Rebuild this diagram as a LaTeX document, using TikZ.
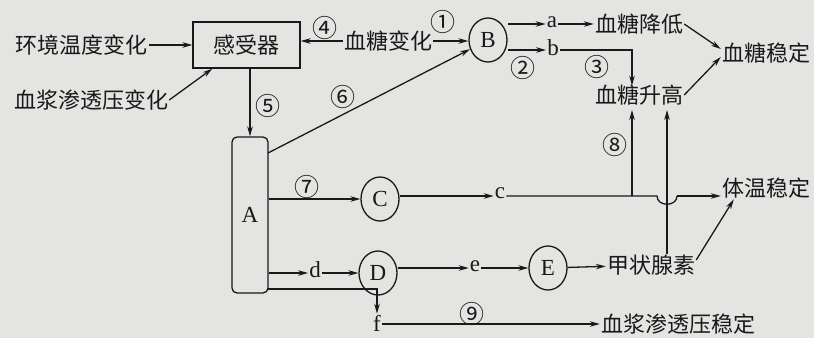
\documentclass[tikz,border=0pt]{standalone}
\usepackage{fontspec}
\setmainfont{Liberation Serif}
\newfontfamily\cjk{Noto Sans CJK SC}
\usetikzlibrary{arrows.meta,shapes.geometric}
\definecolor{paper}{RGB}{228,228,226}
\definecolor{ink}{RGB}{25,25,25}
\tikzset{
  arr/.style={draw=ink,line width=1.3pt,-{Stealth[length=10pt,width=5.5pt]}},
  ln/.style={draw=ink,line width=1.3pt},
  zh/.style={inner sep=1pt,text=ink,font=\cjk\fontsize{22}{24}\selectfont},
  lat/.style={inner sep=1pt,text=ink,font=\fontsize{23}{24}\selectfont},
  num/.style={inner sep=0pt,text=ink,font=\cjk\fontsize{25}{26}\selectfont},
  circ/.style={ellipse,draw=ink,line width=1.3pt,minimum width=38pt,minimum height=44pt,inner sep=0pt,text=ink,font=\fontsize{23}{24}\selectfont},
}
\begin{document}
\begin{tikzpicture}[x=1pt,y=-1pt]
\fill[paper] (0,0) rectangle (814,338);
\useasboundingbox (0,0) rectangle (814,338);
% nodes
\node[zh] (envT) at (82,45) {环境温度变化};
\node[zh] (plasma) at (91,100) {血浆渗透压变化};
\node[draw=ink,line width=1.3pt,minimum width=107pt,minimum height=46pt,zh] (rec) at (246.5,45) {感受器};
\node[zh] (sugar) at (388,41) {血糖变化};
\node[circ] (B) at (488,40) {B};
\node[lat] (a) at (552,22) {a};
\node[lat] (b) at (553,48) {b};
\node[zh] (low) at (639,24) {血糖降低};
\node[zh] (high) at (639,95) {血糖升高};
\node[zh] (stable) at (766,53) {血糖稳定};
\node[draw=ink,line width=1.3pt,rounded corners=5pt,minimum width=36pt,minimum height=156pt,lat] (A) at (250,215) {A};
\node[circ] (C) at (380,199) {C};
\node[lat] (c) at (500,193) {c};
\node[zh] (temp) at (766,188) {体温稳定};
\node[lat] (d) at (315,270) {d};
\node[circ] (D) at (378,273) {D};
\node[lat] (e) at (475,266) {e};
\node[circ] (E) at (548,268) {E};
\node[zh] (thy) at (651,265) {甲状腺素};
\node[lat] (f) at (377,323) {f};
\node[zh] (osm) at (678,324) {血浆渗透压稳定};
% circled numbers
\node[num] (n1) at (443,22) {①};
\node[num] (n2) at (523,68) {②};
\node[num] (n3) at (597,67) {③};
\node[num] (n4) at (325,28) {④};
\node[num] (n5) at (268,106) {⑤};
\node[num] (n6) at (343,97) {⑥};
\node[num] (n7) at (307,187) {⑦};
\node[num] (n8) at (615,145) {⑧};
\node[num] (n9) at (472,314) {⑨};
% coordinates
\coordinate (a6) at (268,153);
\coordinate (h1) at (632,110);
\coordinate (h2) at (667,110);
\coordinate (af) at (268,289);
\coordinate (hopL) at (657,196);
\coordinate (hopR) at (677,196);
% connectors
\draw[arr] (envT) -- (rec.west |- envT);
\draw[arr] (plasma.east) -- ([xshift=20pt]rec.south west);
\draw[arr] (sugar.west) -- (rec.east |- sugar.west);
\draw[arr] (sugar.east) -- (B.west |- sugar.east);
\draw[arr] (rec.south -| A.north) -- (A.north);
\draw[arr] (a6) -- (B);
\draw[arr] (B.east |- 0,24) -- (a.west |- 0,24);
\draw[arr] (a.east |- 0,24) -- (low.west);
\draw[arr] (B.east |- 0,50) -- (b.west |- 0,50);
\draw[arr] (b.east |- 0,50) -| ([yshift=-2pt]high.north -| h1);
\draw[arr] (low.east) -- ([yshift=4pt]stable.west);
\draw[arr] (high.east) -- ([yshift=-4pt]stable.west);
\draw[arr] (A.east |- C) -- (C);
\draw[arr] (C.east |- hopL) -- (c.west |- hopL);
\draw[ln] (c.east |- hopL) -- (hopL) .. controls ([yshift=-11pt]hopL) and ([yshift=-11pt]hopR) .. (hopR);
\draw[arr] (hopR) -- (temp.west |- hopR);
\draw[arr] (h1 |- hopL) -- (h1);
\draw[arr] (thy.north -| h2) -- (h2);
\draw[arr] (A.east |- 0,273) -- (d.west |- 0,273);
\draw[arr] (d.east |- 0,273) -- (D.west |- 0,273);
\draw[arr] (D.east |- 0,268) -- (e.west |- 0,268);
\draw[arr] (e.east |- 0,268) -- (E);
\draw[arr] (E) -- (thy);
\draw[arr] ([yshift=5pt]thy.east) -- ([xshift=13pt]temp.south west);
\draw[arr] (af) -| (f.north);
\draw[arr] (f.east |- osm) -- (osm.west);
\end{tikzpicture}
\end{document}
